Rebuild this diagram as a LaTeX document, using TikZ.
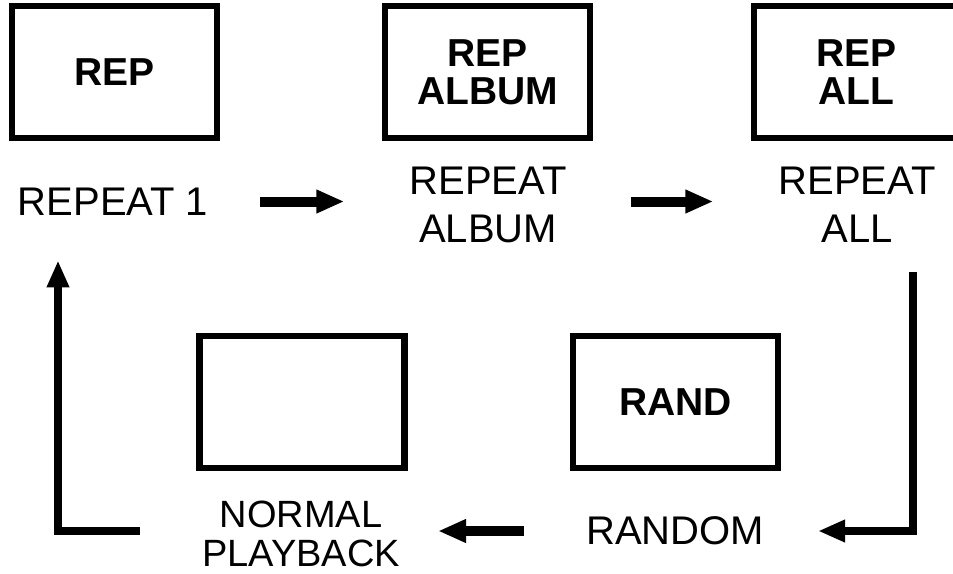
\documentclass[tikz,border=0pt]{standalone}
\usepackage{fontspec}
\setmainfont{Liberation Sans}
\usetikzlibrary{arrows.meta}
\begin{document}
\begin{tikzpicture}[x=1pt,y=-1pt,
  box/.style={draw, line width=6.5pt, minimum width=205pt, minimum height=132pt,
    inner sep=0pt, align=center, font=\bfseries\fontsize{39}{38}\selectfont},
  lbl/.style={inner sep=0pt, align=center, font=\fontsize{40}{48}\selectfont},
  arr/.style={line width=10pt, -{Triangle[length=28pt,width=22pt]}},
  larr/.style={line width=7.5pt, -{Triangle[length=27pt,width=21pt]}}]
\useasboundingbox (0,0) rectangle (953,573);
\fill[white] (0,0) rectangle (953,573);
\clip (0,0) rectangle (953,573);
% mode boxes
\node[box] (b1) at (114.5,72) {REP};
\node[box] (b2) at (487.5,72) {REP\\ALBUM};
\node[box] (b3) at (856.5,72) {REP\\ALL};
\node[box] (b4) at (302,402) {};
\node[box] (b5) at (675.5,402) {RAND};
% labels
\node[lbl] (r1) at (113,201.5) {REPEAT 1};
\node[lbl] (r2) at (488,205) {REPEAT\\ALBUM};
\node[lbl] (r3) at (857,204.5) {REPEAT\\ALL};
\node[lbl, font=\fontsize{38}{38.5}\selectfont] (np) at (301,534) {NORMAL\\PLAYBACK};
\node[lbl] (rd) at (675,531) {RANDOM};
% connectors
\draw[arr, shorten <=52pt, shorten >=65pt] (r1.east) -- (r1.east -| r2.west);
\draw[arr, shorten <=64pt, shorten >=65pt] (r2.east |- r1.east) -- (r3.west |- r1.east);
\draw[larr, shorten <=30pt, shorten >=54pt] ([xshift=56pt]r3.south) |- (rd.east);
\draw[arr, shorten <=62pt, shorten >=38pt] (rd.west) -- (rd.west -| np.east);
\draw[larr, shorten <=62pt, shorten >=45pt] (rd.west -| np.west) -| ([xshift=-55pt]r1.south);
\end{tikzpicture}
\end{document}
